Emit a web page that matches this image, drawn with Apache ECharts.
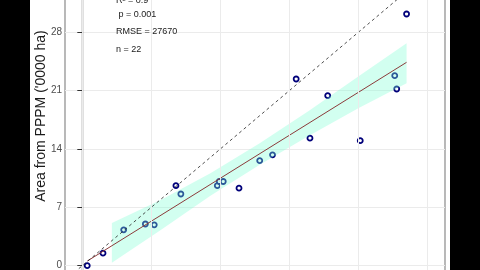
<!DOCTYPE html>
<html>
<head>
<meta charset="utf-8">
<script src="https://cdn.jsdelivr.net/npm/echarts@6/dist/echarts.min.js"></script>
<style>
  html, body { margin: 0; padding: 0; background: #000; }
  #wrap { position: relative; width: 480px; height: 270px; background: #000; overflow: hidden; }
  #paper { position: absolute; left: 30px; top: 0; width: 420px; height: 270px; background: #fff; }
  #chart { position: absolute; left: 0; top: 0; width: 480px; height: 270px; }
</style>
</head>
<body>
<div id="wrap"><div id="paper"></div><div id="chart"></div></div>
<script>
// Observed (x) vs PPPM area (y), '0000 ha
const obsX = [0.5, 2.1, 4.2, 6.4, 7.3, 9.5, 10.0, 13.7, 13.9, 14.3, 15.9, 18.0, 19.3, 21.7, 23.1, 24.9, 28.2, 31.7, 31.9, 32.9];
const pppmY = [0.0, 1.5, 4.3, 5.0, 4.9, 9.6, 8.6, 9.6, 10.1, 10.1, 9.3, 12.6, 13.3, 22.4, 15.3, 20.4, 15.0, 22.8, 21.2, 30.2];
// fitted regression line end points
const fitX = [0.5, 32.9];
const fitY = [0.55, 24.4];
// confidence ribbon
const bandX = [3.0, 8, 13, 18, 23, 28, 32.9];
const bandLow = [0.34, 4.3, 8.4, 12.1, 15.6, 18.9, 21.9];
const bandHigh = [5.13, 7.9, 11.1, 14.7, 18.6, 22.7, 26.7];
// 1:1 reference line
const oneX = [-5, 45];
const oneY = [-5, 45];
// ticks
const xGridTicks = [0, 7, 14, 21, 28, 35];
const yTickStep = 7;
const statLines = ['R² = 0.9', ' p = 0.001', 'RMSE = 27670', 'n = 22'];
const yTitle = "Area from PPPM ('0000 ha)";

const chart = echarts.init(document.getElementById('chart'), null, { renderer: 'canvas' });
const font = 'Liberation Sans, Arial, Helvetica, sans-serif';
const navy = '#00007a';

const statPos = [[116, 2], [116, 16], [116, 33.3], [116, 50.7]];

const option = {
  backgroundColor: 'transparent',
  animation: false,
  grid: {
    left: 65, right: 35, top: -26, bottom: -54,
    outerBoundsMode: 'none', containLabel: false,
    show: true, borderColor: '#8a8a8a', borderWidth: 1.2, backgroundColor: 'transparent'
  },
  xAxis: {
    type: 'value', min: -1.755, max: 36.8,
    axisLine: { show: false }, axisTick: { show: false }, axisLabel: { show: false },
    splitLine: { show: false }
  },
  yAxis: {
    type: 'value', min: -7, max: 35, interval: yTickStep,
    axisLine: { show: true, lineStyle: { color: '#333', width: 1.3 } },
    axisTick: { show: true, length: 5, lineStyle: { color: '#333', width: 1 } },
    axisLabel: { color: '#4d4d4d', fontSize: 10, fontFamily: font, margin: 3 },
    splitLine: { show: true, lineStyle: { color: '#ebebeb', width: 1 } }
  },
  graphic: [
    ...statLines.map((t, i) => ({
      type: 'text', left: statPos[i][0], top: statPos[i][1] - 6, z: 100,
      style: { text: t, fill: '#1a1a1a', font: '9px ' + font }
    })),
    {
      type: 'text', x: 41, y: 116, rotation: Math.PI / 2, z: 100,
      style: { text: yTitle, fill: '#1a1a1a', font: '14px ' + font, align: 'center', verticalAlign: 'middle' }
    }
  ],
  series: [
    {
      type: 'line', data: [], z: 1, silent: true,
      markLine: {
        silent: true, symbol: 'none', label: { show: false },
        lineStyle: { color: '#ebebeb', width: 1, type: 'solid' },
        data: xGridTicks.map(v => ({ xAxis: v }))
      }
    },
    {
      type: 'scatter', z: 2, symbol: 'circle', symbolSize: 5,
      itemStyle: { color: '#fff', borderColor: navy, borderWidth: 1.8, opacity: 1 },
      data: obsX.map((x, i) => [x, pppmY[i]])
    },
    {
      type: 'custom', z: 3, silent: true,
      data: [[0, 0]],
      renderItem: function (params, api) {
        const pts = [];
        for (let i = 0; i < bandX.length; i++) pts.push(api.coord([bandX[i], bandHigh[i]]));
        for (let i = bandX.length - 1; i >= 0; i--) pts.push(api.coord([bandX[i], bandLow[i]]));
        return { type: 'polygon', shape: { points: pts }, style: { fill: 'rgba(127,255,212,0.35)' } };
      }
    },
    {
      type: 'line', z: 4, symbol: 'none', silent: true,
      lineStyle: { color: '#8b3a3a', width: 1 },
      data: fitX.map((x, i) => [x, fitY[i]])
    },
    {
      type: 'line', z: 4, symbol: 'none', silent: true, clip: true,
      lineStyle: { color: '#222', width: 0.8, type: [3, 3] },
      data: oneX.map((x, i) => [x, oneY[i]])
    }
  ]
};
chart.setOption(option);
</script>
</body>
</html>
